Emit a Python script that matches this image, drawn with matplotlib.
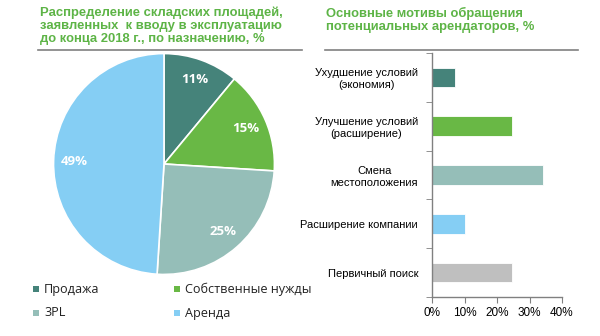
import matplotlib
matplotlib.use("Agg")
import matplotlib.pyplot as plt
from matplotlib.lines import Line2D
from matplotlib.patches import Rectangle

# ---- data ----
pie_labels = ["Продажа", "Собственные нужды", "3PL", "Аренда"]
pie_values = [11, 15, 25, 49]
pie_colors = ["#45837A", "#69B845", "#95BEB8", "#85CEF4"]

bar_categories = ["Ухудшение условий\n(экономия)", "Улучшение условий\n(расширение)",
                  "Смена\nместоположения", "Расширение компании", "Первичный поиск"]
bar_values = [7, 24.5, 34, 10, 24.5]
bar_colors = ["#45837A", "#69B845", "#95BEB8", "#85CEF4", "#BFBFBF"]
x_ticks = [0, 10, 20, 30, 40]

W, H = 600, 336
fig = plt.figure(figsize=(W / 100, H / 100), dpi=100)

def fx(px):
    return px / W

def fy(py):
    return 1 - py / H

green = "#5DB446"
title_font = dict(family="Liberation Sans", weight="bold", color=green, fontsize=9.4)

# ---- titles ----
fig.text(fx(40), fy(6.5), "Распределение складских площадей,\nзаявленных  к вводу в эксплуатацию\nдо конца 2018 г., по назначению, %",
         ha="left", va="top", linespacing=1.12, **title_font)
fig.text(fx(326), fy(6.5), "Основные мотивы обращения\nпотенциальных арендаторов, %",
         ha="left", va="top", linespacing=1.12, **title_font)
fig.add_artist(Line2D([fx(38), fx(302)], [fy(49.5), fy(49.5)], color="#808080", lw=1.2))
fig.add_artist(Line2D([fx(325), fx(578)], [fy(49.5), fy(49.5)], color="#808080", lw=1.2))

# ---- pie ----
axp = fig.add_axes([fx(53), fy(275), 222 / W, 222 / H])
wedges, texts, autotexts = axp.pie(
    pie_values, colors=pie_colors, startangle=90, counterclock=False,
    autopct=lambda p: f"{p:.0f}%", pctdistance=0.81,
    wedgeprops=dict(edgecolor="white", linewidth=1.2),
    textprops=dict(color="white", fontsize=9.5, fontweight="bold", family="Open Sans"))
axp.set_xlim(-1.005, 1.005)
axp.set_ylim(-1.005, 1.005)
axp.set_aspect("equal")

# ---- legend ----
leg_pos = [(36, 289), (177, 289), (36, 313), (177, 313)]
for (x, y), lab, col in zip(leg_pos, pie_labels, pie_colors):
    fig.patches.append(Rectangle((fx(x - 3), fy(y + 3)), 6 / W, 6 / H, transform=fig.transFigure,
                                 facecolor=col, edgecolor="none"))
    fig.text(fx(x + 8), fy(y), lab, ha="left", va="center", fontsize=9.1,
             family="Open Sans", color="#222222")

# ---- bars ----
axb = fig.add_axes([fx(432), fy(297), 130 / W, 244 / H])
n = len(bar_categories)
ypos = list(range(n))
axb.barh(ypos, bar_values, height=0.4, color=bar_colors, edgecolor="white", linewidth=0.6)
axb.set_ylim(n - 0.5, -0.5)
axb.set_xlim(0, 40)
axb.set_xticks(x_ticks)
axb.set_xticklabels([f"{v}%" for v in x_ticks], family="Liberation Sans", fontsize=8.5)
axb.set_yticks(ypos)
axb.set_yticklabels(bar_categories, family="Liberation Sans", fontsize=8, linespacing=1.25)
axb.set_yticks([i - 0.5 for i in range(n + 1)], minor=True)
axb.tick_params(axis="y", which="major", length=0, pad=10)
axb.tick_params(axis="y", which="minor", length=4, color="#808080", direction="out")
axb.tick_params(axis="x", length=4, color="#808080", direction="out", pad=3)
for s in ["top", "right"]:
    axb.spines[s].set_visible(False)
for s in ["left", "bottom"]:
    axb.spines[s].set_color("#808080")
    axb.spines[s].set_linewidth(1.0)
for lbl in axb.get_yticklabels():
    lbl.set_multialignment("center")

fig.savefig("out.png", dpi=100)
